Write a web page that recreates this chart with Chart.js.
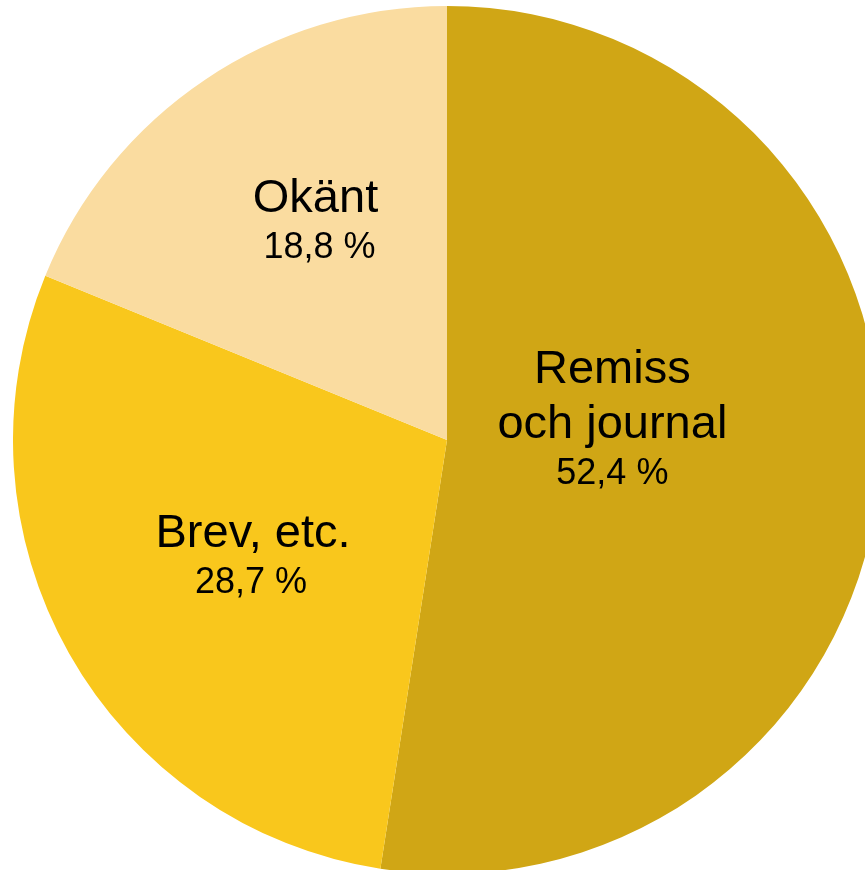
<!DOCTYPE html>
<html lang="sv">
<head>
    <meta charset="UTF-8"/>
    <title>Remiss och journal</title>
    <script src="https://cdn.jsdelivr.net/npm/chart.js@4.4.0/dist/chart.umd.min.js"></script>
    <style>
        html, body { margin: 0; padding: 0; background: #ffffff; overflow: hidden; width: 865px; height: 870px; }
        #wrap { position: absolute; left: 13px; top: 6px; width: 868px; height: 868px; }
    </style>
</head>
<body>

<div id="wrap">
    <canvas id="chart" width="868" height="868"></canvas>
</div>

<script>
    // category names (one entry per line of the label) and shares in percent
    const categories = [['Remiss', 'och journal'], ['Brev, etc.'], ['Okänt']];
    const shares = [52.4, 28.7, 18.8];
    const colours = ['#D0A615', '#F9C71C', '#FADCA0'];

    // draws the label text inside each slice
    const sliceLabels = {
        id: 'sliceLabels',
        afterDatasetsDraw(chart, args, opts) {
            const ctx = chart.ctx;
            const arcs = chart.getDatasetMeta(0).data;
            ctx.save();
            ctx.fillStyle = '#000000';
            ctx.textAlign = 'center';
            ctx.textBaseline = 'alphabetic';
            arcs.forEach((arc, i) => {
                const r = arc.outerRadius;
                const x = arc.x + opts.pos[i][0] * r;
                let y = arc.y + opts.pos[i][1] * r;
                const lines = chart.data.labels[i];
                ctx.font = '47px "Liberation Sans", Arial, sans-serif';
                lines.forEach((line, j) => {
                    if (j > 0) y += 55;
                    ctx.fillText(line, x, y);
                });
                y += 46;
                ctx.font = '36px "Liberation Sans", Arial, sans-serif';
                const v = chart.data.datasets[0].data[i];
                ctx.fillText(v.toFixed(1).replace('.', ',') + ' %', x + opts.pctShift[i], y);
            });
            ctx.restore();
        }
    };

    const ctx = document.getElementById('chart').getContext('2d');
    const myChart = new Chart(ctx, {
        type: 'pie',
        data: {
            labels: categories,
            datasets: [
                {
                    data: shares,
                    backgroundColor: colours,
                    borderWidth: 0
                }
            ]
        },
        options: {
            responsive: false,
            animation: false,
            layout: { padding: 0 },
            plugins: {
                legend: { display: false },
                tooltip: { enabled: false },
                sliceLabels: {
                    pos: [[0.381, -0.132], [-0.447, 0.247], [-0.303, -0.526]],
                    pctShift: [0, -2, 4]
                }
            }
        },
        plugins: [sliceLabels]
    });
</script>

</body>
</html>
